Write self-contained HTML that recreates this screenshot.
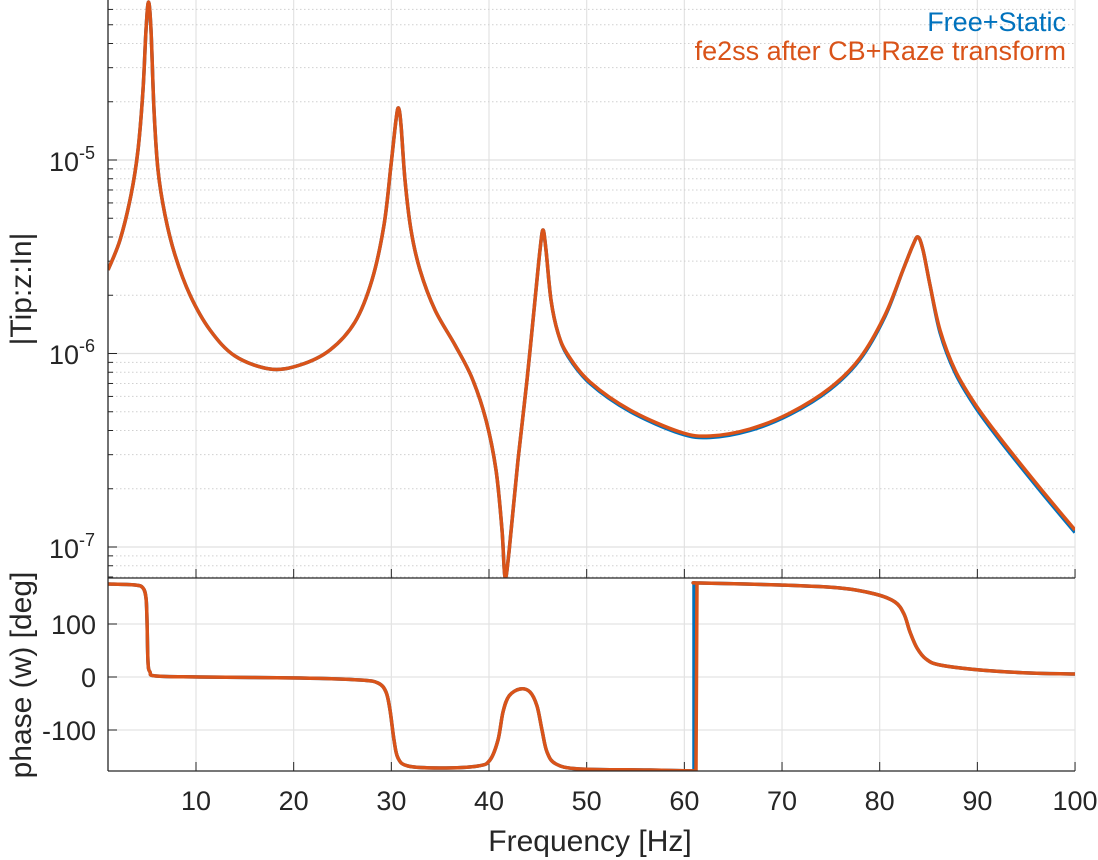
<!DOCTYPE html>
<html><head><meta charset="utf-8"><style>
html,body{margin:0;padding:0;background:#fff}
svg{display:block;font-family:"Liberation Sans",sans-serif}
</style></head><body>
<svg id="s" width="1098" height="860" xmlns="http://www.w3.org/2000/svg"></svg>
<script>
const s=document.getElementById('s');let h='';
const L=108,R=1075,T1=0,B1=578,T2=578,B2=771;
const xf=f=>108.1+(f-1)*9.767;
const ym=e=>160-(e+5)*193.5;
for(let f=10;f<=100;f+=10){const x=xf(f);h+=`<line x1="${x}" y1="${T1}" x2="${x}" y2="${B2}" stroke="#e3e3e3" stroke-width="1.2"/>`;}
for(let d=-8;d<=-4;d++){for(let m=1;m<10;m++){const y=ym(d+Math.log10(m));if(y<T1||y>B1)continue;
 if(m==1)h+=`<line x1="${L}" y1="${y}" x2="${R}" y2="${y}" stroke="#e0e0e0" stroke-width="1.2"/>`;
 else h+=`<line x1="${L}" y1="${y}" x2="${R}" y2="${y}" stroke="#d0d0d0" stroke-width="1" stroke-dasharray="1.5 2.5"/>`;
 h+=`<line x1="${L}" y1="${y}" x2="${L+(m==1?9:5)}" y2="${y}" stroke="#262626"/>`;}}
for(const p of[100,0,-100]){const y=677-p*0.53;h+=`<line x1="${L}" y1="${y}" x2="${R}" y2="${y}" stroke="#e3e3e3" stroke-width="1.2"/><line x1="${L}" y1="${y}" x2="${L+9}" y2="${y}" stroke="#262626"/><text x="${L-12}" y="${y+10}" text-anchor="end" font-size="27" fill="#262626">${p}</text>`;}
for(let f=10;f<=100;f+=10){const x=xf(f);h+=`<line x1="${x}" y1="${B2}" x2="${x}" y2="${B2-9}" stroke="#262626"/><line x1="${x}" y1="${B1}" x2="${x}" y2="${B1-9}" stroke="#262626"/><text x="${x}" y="${B2+39}" text-anchor="middle" font-size="27" fill="#262626">${f}</text>`;}
for(const [e,y] of [[-5,160],[-6,353],[-7,547]]){h+=`<text x="${L-13}" y="${y+11}" text-anchor="end" font-size="27" fill="#262626">10<tspan dy="-12" font-size="18">${e}</tspan></text>`;}
function cr(p){let d=`M${p[0][0]},${p[0][1]}`;for(let i=0;i<p.length-1;i++){const p0=p[Math.max(0,i-1)],p1=p[i],p2=p[i+1],p3=p[Math.min(p.length-1,i+2)];
 d+=` C${p1[0]+(p2[0]-p0[0])/6},${p1[1]+(p2[1]-p0[1])/6} ${p2[0]-(p3[0]-p1[0])/6},${p2[1]-(p3[1]-p1[1])/6} ${p2[0]},${p2[1]}`;}return d;}
const mag=[[108,270],[120,240],[131,195],[138,150],[143,90],[146,30],[148.5,2],[151,30],[154,110],[158,170],[165,215],[175,255],[190,295],[210,330],[235,356],[270,369],[300,365],[330,350],[355,322],[372,280],[384,225],[391,165],[396,120],[398.5,108],[401,125],[405,180],[411,230],[420,270],[435,310],[455,345],[472,378],[486,420],[496,470],[502,530],[505,577],[509,552],[518,460],[527,380],[535,300],[540,250],[543,230],[546,250],[551,300],[558,333],[568,355],[590,382],[630,410],[680,432],[710,436],[750,429],[790,413],[830,388],[860,358],[885,315],[903,270],[913,245],[918,237],[923,250],[930,285],[940,330],[955,370],[975,404],[1000,438],[1040,488],[1075,530]];
const ph=[[108,584],[135,585],[143,588],[146,598],[147,620],[148,662],[150,672],[156,676],[200,677],[300,678],[360,680],[378,683],[386,692],[390,710],[394,740],[398,758],[408,766],[440,768],[478,766],[490,760],[498,740],[503,712],[509,696],[520,689],[530,692],[537,706],[542,730],[547,752],[556,764],[580,769],[650,770],[696,771]];
const ph2=[[697,583],[700,583],[780,585],[840,588],[875,594],[895,602],[904,614],[910,632],[917,648],[926,659],[940,665],[980,670],[1030,673],[1075,674]];
const bm=mag.map(q=>[q[0],q[1]+(q[0]>560&&q[0]<900?1.5:(q[0]>=940?2.5:0))]);
h+=`<clipPath id="c1"><rect x="${L}" y="${T1}" width="${R-L}" height="${B1-T1}"/></clipPath><clipPath id="c2"><rect x="${L}" y="${T2}" width="${R-L}" height="${B2-T2}"/></clipPath>`;
h+=`<g clip-path="url(#c1)" fill="none" stroke-width="3.5" stroke-linejoin="round"><path d="${cr(bm)}" stroke="#0072bd"/><path d="${cr(mag)}" stroke="#d95319"/></g>`;
h+=`<g clip-path="url(#c2)" fill="none" stroke-width="3.5" stroke-linejoin="round"><path d="${cr(ph)} L694,771 L694,583 ${cr(ph2).replace('M','L')}" stroke="#0072bd"/><path d="${cr(ph)} L697,583 ${cr(ph2).replace('M','L')}" stroke="#d95319"/></g>`;
h+=`<line x1="${L}" y1="0" x2="${L}" y2="${B2}" stroke="#262626" stroke-width="1.3"/><line x1="${L}" y1="${B1}" x2="${R}" y2="${B1}" stroke="#262626" stroke-width="1.3"/><line x1="${L}" y1="${B2}" x2="${R}" y2="${B2}" stroke="#262626" stroke-width="1.3"/>`;
h+=`<text x="1066" y="31" text-anchor="end" font-size="27" fill="#0072bd">Free+Static</text><text x="1066" y="60" text-anchor="end" font-size="27" fill="#d95319">fe2ss after CB+Raze transform</text>`;
h+=`<text transform="translate(31,289) rotate(-90)" text-anchor="middle" font-size="30" fill="#262626">|Tip:z:In|</text>`;
h+=`<text transform="translate(31,675) rotate(-90)" text-anchor="middle" font-size="30" fill="#262626">phase (w) [deg]</text>`;
h+=`<text x="590" y="851" text-anchor="middle" font-size="30" fill="#262626">Frequency [Hz]</text>`;
s.innerHTML=h;
</script>
</body></html>
